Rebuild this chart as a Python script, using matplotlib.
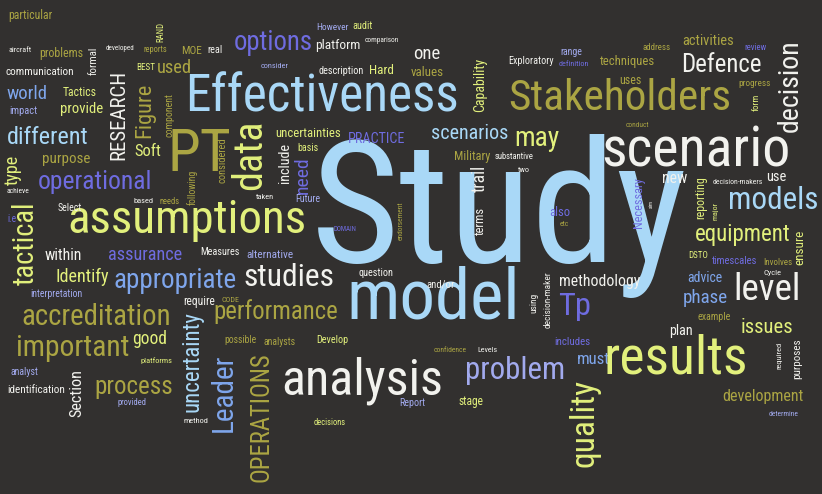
import matplotlib
matplotlib.use("Agg")
import matplotlib.pyplot as plt
from matplotlib import font_manager

# word groups by colour (word cloud of a study methodology text)
blue_words = ["Study", "Effectiveness", "model", "scenarios", "models", "different", "uncertainty"]
mid_blue_words = ["appropriate", "Leader", "world", "phase", "advice", "must"]
purple_words = ["options", "operational", "assurance", "Tp", "also", "DOMAIN", "definition",
                "review", "Necessary", "timescales", "includes", "i.e", "need", "PRACTICE"]
lavender_words = ["problem", "However", "consider", "impact", "Future", "alternative", "range",
                  "analyst", "provided", "Report", "determine", "interpretation"]
yellow_words = ["assumptions", "results", "data", "quality", "equipment", "may", "tactical",
                "Capability", "issues", "uncertainties", "Identify", "Soft", "provide", "Tactics",
                "BEST", "Hard", "audit", "RAND", "type", "basis", "form", "reporting", "major",
                "ensure", "DSTO", "good", "platforms", "Develop", "decisions", "stage"]
olive_words = ["Stakeholders", "PT", "accreditation", "important", "process", "performance",
               "OPERATIONS", "Figure", "development", "problems", "purpose", "used", "MOE",
               "values", "techniques", "particular", "reports", "component", "needs", "following",
               "endorsement", "CODE", "Military", "etc", "address", "uses", "progress", "conduct",
               "Involves", "example", "possible", "analysts", "confidence", "considered",
               "activities"]
white_words = ["scenario", "analysis", "decision", "Defence", "level", "studies", "RESEARCH",
               "methodology", "communication", "real", "platform", "one", "Exploratory",
               "description", "comparison", "aircraft", "formal", "developed", "achieve", "based",
               "Select", "within", "require", "include", "taken", "Measures", "question",
               "substantive", "two", "trail", "terms", "and/or", "using", "decision-maker", "new",
               "decision-makers", "use", "aim", "Cycle", "plan", "identification", "Section",
               "method", "Levels", "required", "purposes"]

colours = {
    "blue": "#a9d8f7", "mid_blue": "#7fa6ec", "purple": "#6f6ce0", "lavender": "#a2aaee",
    "yellow": "#e2f07c", "olive": "#aba543", "white": "#f2f2ee",
}
groups = [("blue", blue_words), ("mid_blue", mid_blue_words), ("purple", purple_words),
          ("lavender", lavender_words), ("yellow", yellow_words), ("olive", olive_words),
          ("white", white_words)]

# layout: centre x, centre y (pixels from top), length along text, rotation
layout = {
    "Study": (499, 216, 376, 0), "scenario": (696, 151, 188, 0), "Effectiveness": (322, 97, 271, 0),
    "Stakeholders": (620, 98, 222, 0), "assumptions": (187, 220, 238, 0), "model": (433, 299, 173, 0),
    "analysis": (362, 381, 161, 0), "results": (676, 359, 143, 0), "PT": (199, 154, 64, 0),
    "data": (250, 155, 70, 90), "options": (273, 42, 79, 0), "operational": (95, 182, 114, 0),
    "appropriate": (175, 280, 123, 0), "accreditation": (96, 317, 148, 0),
    "important": (73, 348, 113, 0), "process": (134, 387, 78, 0), "performance": (276, 312, 124, 0),
    "problem": (515, 370, 100, 0), "quality": (584, 423, 88, 90), "models": (773, 200, 90, 0),
    "equipment": (743, 234, 95, 0), "level": (767, 290, 67, 0), "Leader": (224, 393, 78, 90),
    "uncertainty": (192, 362, 100, 90), "OPERATIONS": (261, 417, 130, 90), "Tp": (575, 306, 33, 0),
    "scenarios": (470, 133, 77, 0), "may": (537, 138, 45, 0), "different": (48, 137, 81, 0),
    "world": (27, 94, 41, 0), "decision": (790, 86, 92, 90), "Defence": (721, 65, 80, 0),
    "studies": (289, 277, 90, 0), "RESEARCH": (119, 115, 90, 90), "tactical": (26, 243, 83, 90),
    "Figure": (145, 110, 55, 90), "development": (763, 396, 81, 0), "methodology": (600, 281, 81, 0),
    "phase": (705, 298, 45, 0), "advice": (705, 278, 35, 0), "Capability": (480, 85, 54, 90),
    "issues": (767, 327, 52, 0), "uncertainties": (308, 133, 65, 0), "PRACTICE": (377, 139, 57, 0),
    "Identify": (82, 277, 53, 0), "assurance": (145, 255, 74, 0), "Soft": (148, 151, 27, 0),
    "provide": (82, 109, 43, 0), "Tactics": (80, 92, 34, 0), "communication": (40, 72, 69, 0),
    "problems": (61, 54, 44, 0), "purpose": (66, 159, 48, 0), "used": (174, 68, 35, 0),
    "BEST": (146, 68, 19, 0), "MOE": (192, 51, 21, 0), "real": (215, 50, 15, 0),
    "platform": (338, 46, 45, 0), "one": (427, 54, 27, 0), "values": (427, 73, 33, 0),
    "Exploratory": (531, 61, 45, 0), "techniques": (627, 62, 55, 0), "activities": (708, 41, 51, 0),
    "Hard": (381, 70, 25, 0), "description": (341, 71, 45, 0), "consider": (275, 66, 28, 0),
    "However": (332, 27, 32, 0), "audit": (363, 26, 20, 0), "comparison": (382, 40, 34, 0),
    "particular": (30, 16, 44, 0), "aircraft": (20, 50, 23, 0), "formal": (94, 61, 28, 90),
    "developed": (120, 48, 28, 0), "reports": (155, 49, 24, 0), "RAND": (161, 32, 20, 90),
    "impact": (23, 111, 28, 0), "component": (169, 115, 44, 90), "type": (13, 170, 30, 90),
    "achieve": (18, 191, 23, 0), "based": (143, 201, 20, 0), "needs": (170, 201, 20, 0),
    "following": (192, 187, 35, 90), "Select": (70, 208, 24, 0), "i.e": (12, 219, 9, 0),
    "within": (63, 255, 37, 0), "interpretation": (56, 294, 52, 0), "require": (199, 301, 32, 0),
    "considered": (222, 160, 45, 90), "include": (285, 163, 40, 90), "need": (303, 175, 37, 90),
    "basis": (308, 148, 21, 0), "taken": (265, 197, 18, 0), "Future": (308, 199, 25, 0),
    "DOMAIN": (345, 229, 23, 0), "endorsement": (401, 221, 38, 90), "Measures": (220, 252, 39, 0),
    "alternative": (270, 255, 47, 0), "question": (376, 273, 35, 0), "CODE": (230, 300, 18, 0),
    "Military": (472, 156, 36, 0), "substantive": (514, 156, 39, 0), "two": (524, 170, 12, 0),
    "trail": (480, 178, 27, 90), "terms": (480, 221, 28, 90), "also": (560, 212, 21, 0),
    "etc": (564, 224, 9, 0), "and/or": (441, 284, 28, 0), "using": (534, 303, 20, 90),
    "decision-maker": (548, 300, 56, 90), "range": (571, 52, 22, 0), "definition": (574, 64, 30, 0),
    "address": (657, 48, 28, 0), "review": (755, 48, 22, 0), "uses": (630, 81, 22, 0),
    "progress": (755, 84, 32, 0), "form": (756, 102, 17, 90), "conduct": (637, 125, 23, 0),
    "new": (675, 178, 25, 0), "reporting": (701, 198, 43, 90), "decision-makers": (738, 182, 50, 0),
    "use": (776, 177, 20, 0), "Necessary": (638, 203, 50, 90), "aim": (651, 204, 8, 90),
    "major": (715, 211, 18, 90), "ensure": (800, 247, 35, 90), "DSTO": (698, 255, 20, 0),
    "timescales": (735, 261, 45, 0), "Involves": (778, 262, 29, 0), "Cycle": (772, 273, 18, 0),
    "example": (714, 317, 33, 0), "plan": (681, 331, 24, 0), "good": (150, 339, 35, 0),
    "platforms": (156, 361, 32, 0), "analyst": (24, 372, 28, 0), "identification": (36, 390, 58, 0),
    "Section": (77, 393, 48, 90), "provided": (132, 402, 29, 0), "method": (196, 421, 25, 0),
    "possible": (240, 340, 32, 0), "analysts": (280, 342, 32, 0), "Develop": (332, 340, 32, 0),
    "decisions": (330, 422, 32, 0), "Report": (412, 403, 26, 0), "confidence": (450, 350, 33, 0),
    "Levels": (487, 350, 20, 0), "includes": (572, 342, 36, 0), "must": (593, 359, 33, 0),
    "stage": (471, 401, 25, 0), "required": (779, 355, 27, 90), "purposes": (797, 359, 40, 90),
    "determine": (784, 414, 30, 0),
}

installed = {f.name for f in font_manager.fontManager.ttflist}
family = next(f for f in ["Liberation Sans Narrow", "Roboto Condensed", "Open Sans Condensed",
                          "Roboto", "DejaVu Sans"] if f in installed)

bg = "#32302f"
fig = plt.figure(figsize=(8.22, 4.94), dpi=100, facecolor=bg)
ax = fig.add_axes([0, 0, 1, 1])
ax.set_facecolor(bg)
ax.set_xlim(0, 822)
ax.set_ylim(494, 0)
ax.axis("off")

renderer = fig.canvas.get_renderer()
for key, words in groups:
    for w in words:
        x, y, span, rot = layout[w]
        t = ax.text(x, y, w, fontsize=10, family=family, color=colours[key],
                    ha="center", va="center")
        width = t.get_window_extent(renderer).width
        t.set_fontsize(10 * span / width)
        t.set_rotation(rot)

fig.savefig("out.png", dpi=100, facecolor=bg)
